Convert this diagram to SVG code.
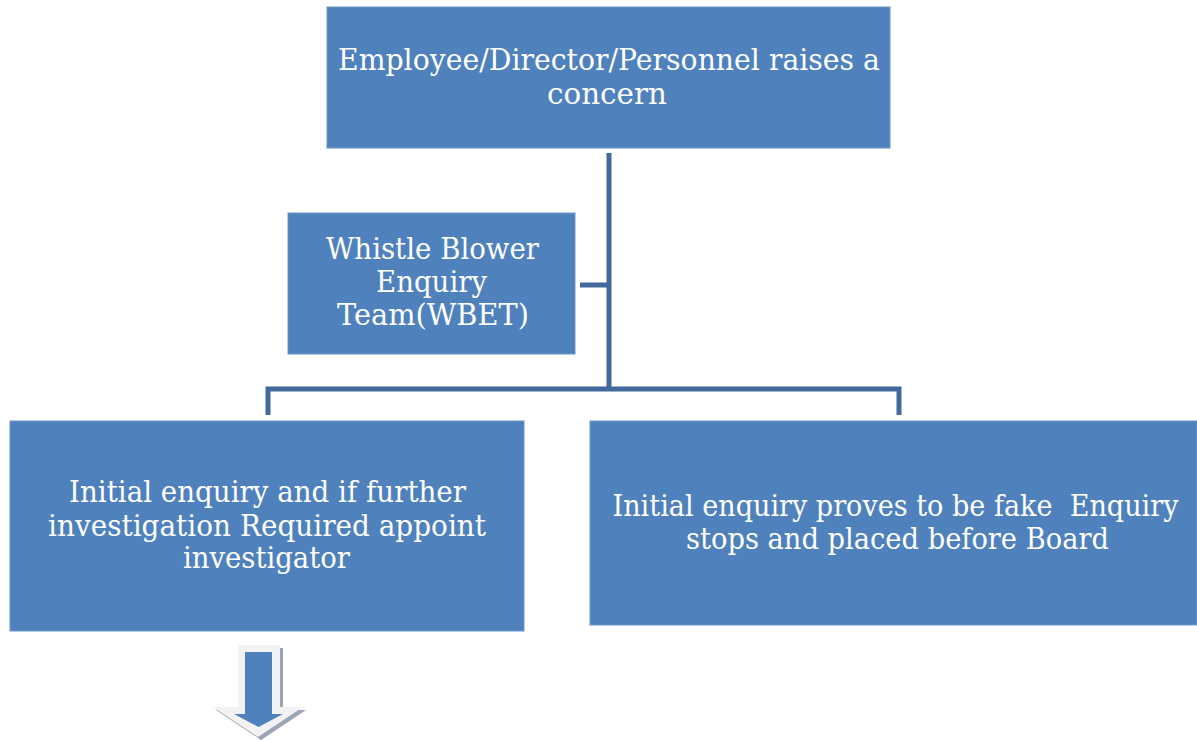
<svg xmlns="http://www.w3.org/2000/svg" width="1197" height="740" viewBox="0 0 1197 740">
<style>
.box{fill:#4f81bd;stroke:#6d95c8;stroke-width:1}
.t{font-family:"DejaVu Serif","Liberation Serif",serif;font-size:29px;fill:#ffffff;text-anchor:middle}
.c{fill:none;stroke:#41699b;stroke-width:5;stroke-linejoin:miter}
</style>
<rect width="1197" height="740" fill="#ffffff"/>
<g id="connectors">
<path class="c" d="M268,415 V389 H899 V415"/>
<path class="c" d="M609,153 V389"/>
<path class="c" d="M580,285 H609"/>
</g>
<g id="node-concern">
<rect class="box" x="327" y="7" width="563" height="141"/>
<text class="t" x="609" y="70" textLength="542" lengthAdjust="spacingAndGlyphs">Employee/Director/Personnel raises a</text>
<text class="t" x="607" y="104" textLength="120" lengthAdjust="spacingAndGlyphs">concern</text>
</g>
<g id="node-wbet">
<rect class="box" x="288" y="213" width="287" height="141"/>
<text class="t" x="432.5" y="259" textLength="213" lengthAdjust="spacingAndGlyphs">Whistle Blower</text>
<text class="t" x="431.5" y="292" textLength="111" lengthAdjust="spacingAndGlyphs">Enquiry</text>
<text class="t" x="433" y="325" textLength="192" lengthAdjust="spacingAndGlyphs">Team(WBET)</text>
</g>
<g id="node-initial">
<rect class="box" x="10" y="421" width="514" height="210"/>
<text class="t" x="267.5" y="502" textLength="397" lengthAdjust="spacingAndGlyphs">Initial enquiry and if further</text>
<text class="t" x="267" y="536" textLength="438" lengthAdjust="spacingAndGlyphs">investigation Required appoint</text>
<text class="t" x="266.5" y="568" textLength="167" lengthAdjust="spacingAndGlyphs">investigator</text>
</g>
<g id="node-fake">
<rect class="box" x="590" y="421" width="607" height="204"/>
<text class="t" x="895.5" y="516" textLength="566" lengthAdjust="spacingAndGlyphs" xml:space="preserve">Initial enquiry proves to be fake  Enquiry</text>
<text class="t" x="897.5" y="549" textLength="423" lengthAdjust="spacingAndGlyphs">stops and placed before Board</text>
</g>
<g id="arrow">
<path d="M241,648 H283 V710 H306 L261,740 L216,710 H241 Z" fill="#9aa5b5"/>
<path d="M238,645 H280 V707 H303 L258,737 L213,707 H238 Z" fill="#f2f2f2"/>
<path d="M245,652 H272 V714 H283 L258.5,727 L234,714 H245 Z" fill="#4f81bd"/>
</g>
</svg>
